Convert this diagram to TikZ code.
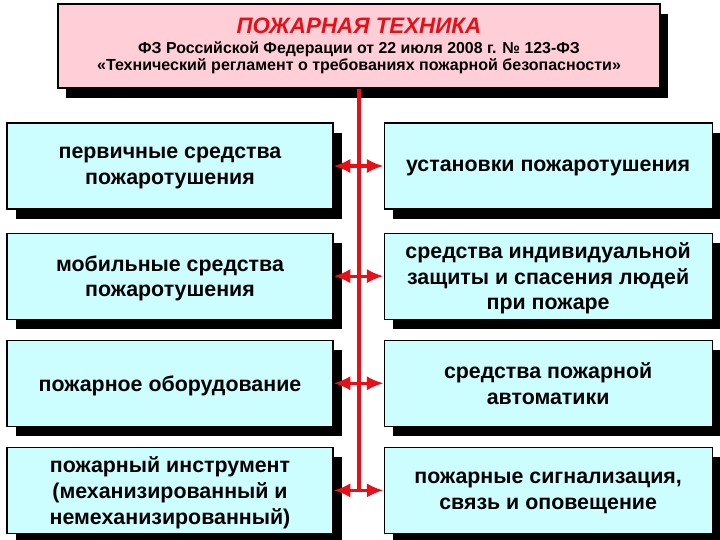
\documentclass[tikz,border=0pt]{standalone}
\usepackage{fontspec}
\setmainfont{Liberation Sans}
\usetikzlibrary{arrows.meta,positioning,shadows}

\definecolor{titlepink}{RGB}{255,206,214}
\definecolor{boxcyan}{RGB}{204,253,255}
\definecolor{firered}{RGB}{232,16,24}

\begin{document}
\begin{tikzpicture}[
    node distance=0.5cm and 1.25cm,
    every node/.style={font=\bfseries},
    heading/.style={draw, line width=0.8pt, fill=titlepink, align=center, minimum width=15.05cm, minimum height=2.1cm,
        drop shadow={shadow xshift=0.21cm, shadow yshift=-0.24cm, fill=black, opacity=1}},
    sbox/.style={draw, line width=0.8pt, fill=boxcyan, align=center, minimum height=2.15cm, text depth=0pt,
        font=\bfseries\fontsize{15.2}{18.3}\selectfont,
        drop shadow={shadow xshift=0.22cm, shadow yshift=-0.24cm, fill=black, opacity=1}},
    lbox/.style={sbox, minimum width=8.15cm},
    rbox/.style={sbox, minimum width=8.2cm},
    link/.style={{Latex[length=4.2mm,width=3.6mm]}-{Latex[length=4.2mm,width=3.6mm]}, firered, line width=2.2pt},
    trunk/.style={firered, line width=2.2pt}
]
\useasboundingbox (0,0) rectangle (18,-13.5);
\node[heading] (title) at (8.975,-1.15) {{\color{firered}\itshape\fontsize{15.9}{19}\selectfont ПОЖАРНАЯ ТЕХНИКА}\\[2pt]
    \fontsize{11.3}{14.5}\selectfont ФЗ Российской Федерации от 22 июля 2008 г. № 123-ФЗ\\
    \fontsize{11.4}{14.5}\selectfont «Технический регламент о требованиях пожарной безопасности»};
\node[lbox] (primary) at (4.25,-4.15) {первичные средства\\пожаротушения};
\node[lbox, below=0.575cm of primary] (mobile) {мобильные средства\\пожаротушения};
\node[lbox, below=of mobile] (equip) {пожарное оборудование};
\node[lbox, below=of equip] (tool) {пожарный инструмент\\(механизированный и\\немеханизированный)};
\node[rbox, right=of primary] (install) {установки пожаротушения};
\node[rbox, right=of mobile] (protect) {средства индивидуальной\\защиты и спасения людей\\при пожаре};
\node[rbox, right=of equip] (autom) {средства пожарной\\автоматики};
\node[rbox, right=of tool] (alarm) {пожарные сигнализация,\\связь и оповещение};
\draw[trunk] (title.south) -- (title.south |- tool.east);
\draw[link] (primary) -- (install);
\draw[link] (mobile) -- (protect);
\draw[link] (equip) -- (autom);
\draw[link] (tool) -- (alarm);
\end{tikzpicture}
\end{document}
